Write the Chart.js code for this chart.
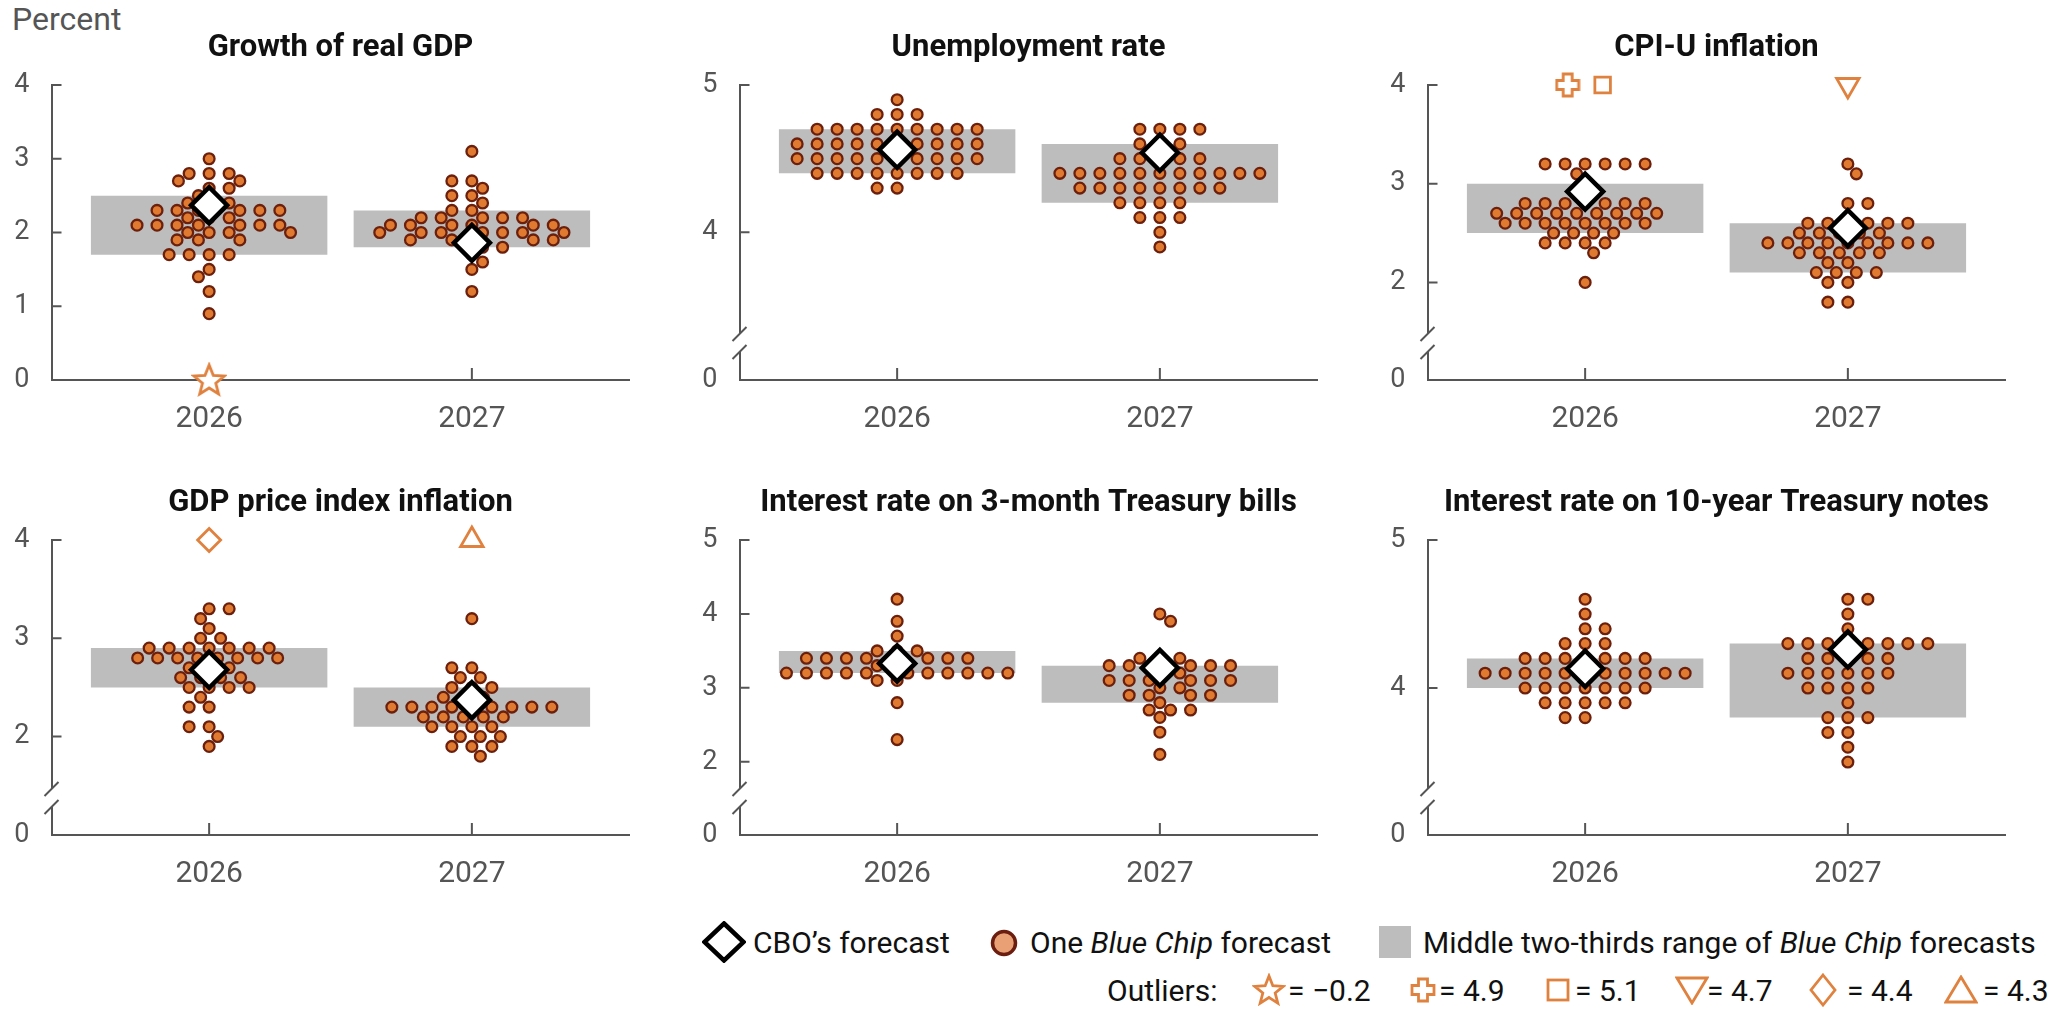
<!DOCTYPE html>
<html>
<head>
<meta charset="utf-8">
<title>CBO and Blue Chip forecasts</title>
<script src="https://cdn.jsdelivr.net/npm/chart.js@4.4.1/dist/chart.umd.min.js"></script>
<style>
  body { margin: 0; background: #fff; font-family: Roboto, "Liberation Sans", sans-serif; }
  #page { position: relative; width: 2052px; height: 1011px; overflow: hidden; }
  canvas { position: absolute; }
  #percent { position: absolute; left: 12px; top: 3px; font-size: 32px; line-height: 1; color: #555; }
  .lg { position: absolute; height: 40px; display: flex; align-items: center; font-size: 30px; color: #111; white-space: nowrap; }
  .lg svg { display: block; }
</style>
</head>
<body>
<div id="page">
  <div id="percent">Percent</div>
  <canvas id="p1" width="681" height="445" style="left:0px;top:0px"></canvas>
  <canvas id="p2" width="681" height="445" style="left:688px;top:0px"></canvas>
  <canvas id="p3" width="681" height="445" style="left:1376px;top:0px"></canvas>
  <canvas id="p4" width="681" height="445" style="left:0px;top:455px"></canvas>
  <canvas id="p5" width="681" height="445" style="left:688px;top:455px"></canvas>
  <canvas id="p6" width="681" height="445" style="left:1376px;top:455px"></canvas>

  <!-- legend, row 1 -->
  <div class="lg" style="left:702px;top:922px"><svg width="44" height="42"><polygon points="22,2.5 41.5,21 22,39.5 2.5,21" fill="#fff" stroke="#000" stroke-width="4.5"/></svg></div>
  <div class="lg" style="left:753px;top:922px">CBO’s forecast</div>
  <div class="lg" style="left:989px;top:923px"><svg width="30" height="30"><circle cx="15" cy="15" r="11.5" fill="#e9a074" stroke="#6b1e10" stroke-width="3.5"/></svg></div>
  <div class="lg" style="left:1030px;top:922px">One&nbsp;<i>Blue Chip</i>&nbsp;forecast</div>
  <div class="lg" style="left:1379px;top:922px"><div style="width:32px;height:32px;background:#bdbdbd"></div></div>
  <div class="lg" style="left:1423px;top:922px">Middle two-thirds range of&nbsp;<i>Blue Chip</i>&nbsp;forecasts</div>

  <!-- legend, row 2 -->
  <div class="lg" style="left:1107px;top:970px">Outliers:</div>
  <div class="lg" style="left:1252px;top:970px"><svg id="lgStar" width="34" height="34"></svg></div>
  <div class="lg" style="left:1288px;top:970px">= −0.2</div>
  <div class="lg" style="left:1410px;top:970px"><svg width="26" height="26"><polygon points="8.5,2 17.5,2 17.5,8.5 24,8.5 24,17.5 17.5,17.5 17.5,24 8.5,24 8.5,17.5 2,17.5 2,8.5 8.5,8.5" fill="#fff" stroke="#e0823f" stroke-width="2.8"/></svg></div>
  <div class="lg" style="left:1439px;top:970px">= 4.9</div>
  <div class="lg" style="left:1546px;top:970px"><svg width="24" height="24"><rect x="2" y="2" width="20" height="20" fill="#fff" stroke="#e0823f" stroke-width="2.8"/></svg></div>
  <div class="lg" style="left:1575px;top:970px">= 5.1</div>
  <div class="lg" style="left:1675px;top:970px"><svg width="34" height="30"><polygon points="2,3 32,3 17,28" fill="#fff" stroke="#e0823f" stroke-width="2.8"/></svg></div>
  <div class="lg" style="left:1707px;top:970px">= 4.7</div>
  <div class="lg" style="left:1809px;top:970px"><svg width="28" height="34"><polygon points="14,2 26,17 14,32 2,17" fill="#fff" stroke="#e0823f" stroke-width="2.8"/></svg></div>
  <div class="lg" style="left:1847px;top:970px">= 4.4</div>
  <div class="lg" style="left:1944px;top:970px"><svg width="34" height="30"><polygon points="17,2 32,27 2,27" fill="#fff" stroke="#e0823f" stroke-width="2.8"/></svg></div>
  <div class="lg" style="left:1983px;top:970px">= 4.3</div>
</div>

<script>
const years = ['2026', '2027'];

// Growth of real GDP
const realGdp2026 = [3.0, 2.8, 2.8, 2.8, 2.7, 2.7, 2.6, 2.6, 2.5, 2.4, 2.4, 2.4, 2.3, 2.3, 2.3, 2.3, 2.3, 2.3,
  2.2, 2.2, 2.2, 2.1, 2.1, 2.1, 2.1, 2.1, 2.1, 2.1, 2.0, 2.0, 2.0, 2.0, 1.9, 1.9, 1.9, 1.7, 1.7, 1.7, 1.7,
  1.5, 1.4, 1.2, 0.9];
const realGdp2027 = [3.1, 2.7, 2.7, 2.6, 2.5, 2.5, 2.4, 2.3, 2.3, 2.2, 2.2, 2.2, 2.2, 2.2, 2.1, 2.1, 2.1, 2.1,
  2.1, 2.1, 2.0, 2.0, 2.0, 2.0, 2.0, 2.0, 2.0, 1.9, 1.9, 1.9, 1.9, 1.9, 1.8, 1.8, 1.7, 1.6, 1.5, 1.2];
const cboRealGdp = [2.37, 1.86];
const bandLowRealGdp = [1.7, 1.8];
const bandHighRealGdp = [2.5, 2.3];
const outliersRealGdp2026 = [-0.2];
const outliersRealGdp2027 = [];

// Unemployment rate
const unemployment2026 = [4.9, 4.8, 4.8, 4.8, 4.7, 4.7, 4.7, 4.7, 4.7, 4.7, 4.7, 4.7, 4.7,
  4.6, 4.6, 4.6, 4.6, 4.6, 4.6, 4.6, 4.6, 4.6, 4.6, 4.5, 4.5, 4.5, 4.5, 4.5, 4.5, 4.5, 4.5, 4.5, 4.5,
  4.4, 4.4, 4.4, 4.4, 4.4, 4.4, 4.4, 4.4, 4.3, 4.3];
const unemployment2027 = [4.7, 4.7, 4.7, 4.7, 4.6, 4.6, 4.6, 4.5, 4.5, 4.5, 4.5, 4.5,
  4.4, 4.4, 4.4, 4.4, 4.4, 4.4, 4.4, 4.4, 4.4, 4.4, 4.4, 4.3, 4.3, 4.3, 4.3, 4.3, 4.3, 4.3, 4.3,
  4.2, 4.2, 4.2, 4.2, 4.1, 4.1, 4.1, 4.0, 3.9];
const cboUnemployment = [4.56, 4.54];
const bandLowUnemployment = [4.4, 4.2];
const bandHighUnemployment = [4.7, 4.6];

// CPI-U inflation
const cpi2026 = [3.2, 3.2, 3.2, 3.2, 3.2, 3.2, 3.1, 2.8, 2.8, 2.8, 2.8, 2.8, 2.8, 2.8,
  2.7, 2.7, 2.7, 2.7, 2.7, 2.7, 2.7, 2.7, 2.7, 2.6, 2.6, 2.6, 2.6, 2.6, 2.6, 2.6, 2.6,
  2.5, 2.5, 2.5, 2.5, 2.4, 2.4, 2.4, 2.4, 2.3, 2.0];
const cpi2027 = [3.2, 3.1, 2.8, 2.8, 2.6, 2.6, 2.6, 2.6, 2.6, 2.6, 2.5, 2.5, 2.5, 2.5, 2.5,
  2.4, 2.4, 2.4, 2.4, 2.4, 2.4, 2.4, 2.4, 2.4, 2.3, 2.3, 2.3, 2.3, 2.3, 2.2, 2.2,
  2.1, 2.1, 2.1, 2.1, 2.0, 2.0, 1.8, 1.8];
const cboCpi = [2.92, 2.55];
const bandLowCpi = [2.5, 2.1];
const bandHighCpi = [3.0, 2.6];
const outliersCpi2026 = [4.9, 5.1];
const outliersCpi2027 = [4.7];

// GDP price index inflation
const gdpPrice2026 = [3.3, 3.3, 3.2, 3.1, 3.0, 3.0, 2.9, 2.9, 2.9, 2.9, 2.9, 2.9, 2.9,
  2.8, 2.8, 2.8, 2.8, 2.8, 2.8, 2.8, 2.8, 2.7, 2.7, 2.7, 2.6, 2.6, 2.6, 2.6,
  2.5, 2.5, 2.5, 2.5, 2.4, 2.3, 2.3, 2.1, 2.1, 2.0, 1.9];
const gdpPrice2027 = [3.2, 2.7, 2.7, 2.6, 2.6, 2.5, 2.5, 2.5, 2.4, 2.4, 2.4,
  2.3, 2.3, 2.3, 2.3, 2.3, 2.3, 2.3, 2.3, 2.3, 2.2, 2.2, 2.2, 2.2, 2.2,
  2.1, 2.1, 2.1, 2.1, 2.0, 2.0, 2.0, 1.9, 1.9, 1.9, 1.8];
const cboGdpPrice = [2.68, 2.37];
const bandLowGdpPrice = [2.5, 2.1];
const bandHighGdpPrice = [2.9, 2.5];
const outliersGdpPrice2026 = [4.4];
const outliersGdpPrice2027 = [4.3];

// Interest rate on 3-month Treasury bills
const bills2026 = [4.2, 3.9, 3.7, 3.5, 3.5, 3.5, 3.4, 3.4, 3.4, 3.4, 3.4, 3.4, 3.4, 3.3, 3.3,
  3.2, 3.2, 3.2, 3.2, 3.2, 3.2, 3.2, 3.2, 3.2, 3.2, 3.2, 3.1, 3.1, 2.8, 2.3];
const bills2027 = [4.0, 3.9, 3.4, 3.4, 3.4, 3.3, 3.3, 3.3, 3.3, 3.3, 3.2, 3.2,
  3.1, 3.1, 3.1, 3.1, 3.1, 3.1, 3.0, 3.0, 2.9, 2.9, 2.9, 2.9, 2.8, 2.7, 2.7, 2.7, 2.6, 2.4, 2.1];
const cboBills = [3.33, 3.27];
const bandLowBills = [3.2, 2.8];
const bandHighBills = [3.5, 3.3];

// Interest rate on 10-year Treasury notes
const notes2026 = [4.6, 4.5, 4.4, 4.4, 4.3, 4.3, 4.3, 4.2, 4.2, 4.2, 4.2, 4.2, 4.2, 4.2,
  4.1, 4.1, 4.1, 4.1, 4.1, 4.1, 4.1, 4.1, 4.1, 4.1, 4.1, 4.0, 4.0, 4.0, 4.0, 4.0, 4.0, 4.0,
  3.9, 3.9, 3.9, 3.9, 3.9, 3.8, 3.8];
const notes2027 = [4.6, 4.6, 4.5, 4.4, 4.3, 4.3, 4.3, 4.3, 4.3, 4.3, 4.3, 4.3,
  4.2, 4.2, 4.2, 4.2, 4.2, 4.1, 4.1, 4.1, 4.1, 4.1, 4.1, 4.0, 4.0, 4.0, 4.0,
  3.9, 3.8, 3.8, 3.8, 3.7, 3.7, 3.6, 3.5];
const cboNotes = [4.13, 4.26];
const bandLowNotes = [4.0, 3.8];
const bandHighNotes = [4.2, 4.3];

// outlier values as listed in the legend, with their marker
const outlierValues = [-0.2, 4.9, 5.1, 4.7, 4.4, 4.3];
const outlierShapes = ['star', 'plus', 'square', 'triDown', 'diamond', 'triUp'];

const axisColor = '#555';
const orange = '#e0823f';
Chart.defaults.font.family = 'Roboto, "Liberation Sans", sans-serif';

function starPoints(cx, cy, R, r) {
  const pts = [];
  for (let k = 0; k < 10; k++) {
    const a = -Math.PI / 2 + k * Math.PI / 5;
    const rad = k % 2 ? r : R;
    pts.push([cx + rad * Math.cos(a), cy + rad * Math.sin(a)]);
  }
  return pts;
}

function markerCanvas(size, pts) {
  const c = document.createElement('canvas');
  c.width = size; c.height = size;
  const g = c.getContext('2d');
  g.beginPath();
  pts.forEach(([x, y], i) => (i ? g.lineTo(x, y) : g.moveTo(x, y)));
  g.closePath();
  g.fillStyle = '#fff';
  g.fill();
  g.lineWidth = 2.8;
  g.strokeStyle = orange;
  g.stroke();
  return c;
}

const starImg = markerCanvas(36, starPoints(18, 19, 16, 7));
const plusImg = markerCanvas(26, [[8.5, 2], [17.5, 2], [17.5, 8.5], [24, 8.5], [24, 17.5], [17.5, 17.5],
  [17.5, 24], [8.5, 24], [8.5, 17.5], [2, 17.5], [2, 8.5], [8.5, 8.5]]);

document.getElementById('lgStar').innerHTML =
  '<polygon points="' + starPoints(17, 18, 15, 6.5).map(p => p.join(',')).join(' ') +
  '" fill="#fff" stroke="' + orange + '" stroke-width="2.8"/>';

const markerStyle = {
  star: { style: starImg, radius: 16, rotation: 0 },
  plus: { style: plusImg, radius: 12, rotation: 0 },
  square: { style: 'rect', radius: 11, rotation: 0 },
  triDown: { style: 'triangle', radius: 13, rotation: 180 },
  diamond: { style: 'rectRot', radius: 11.5, rotation: 0 },
  triUp: { style: 'triangle', radius: 13, rotation: 0 }
};

const panels = [
  { id: 'p1', title: 'Growth of real GDP', yMax: 4, yMin: 0,
    values: [realGdp2026, realGdp2027], cbo: cboRealGdp, low: bandLowRealGdp, high: bandHighRealGdp,
    outliers: [outliersRealGdp2026, outliersRealGdp2027] },
  { id: 'p2', title: 'Unemployment rate', yMax: 5, yMin: 3.248,
    values: [unemployment2026, unemployment2027], cbo: cboUnemployment, low: bandLowUnemployment, high: bandHighUnemployment,
    outliers: [[], []] },
  { id: 'p3', title: 'CPI-U inflation', yMax: 4, yMin: 1.386,
    values: [cpi2026, cpi2027], cbo: cboCpi, low: bandLowCpi, high: bandHighCpi,
    outliers: [outliersCpi2026, outliersCpi2027] },
  { id: 'p4', title: 'GDP price index inflation', yMax: 4, yMin: 1.375,
    values: [gdpPrice2026, gdpPrice2027], cbo: cboGdpPrice, low: bandLowGdpPrice, high: bandHighGdpPrice,
    outliers: [outliersGdpPrice2026, outliersGdpPrice2027] },
  { id: 'p5', title: 'Interest rate on 3-month Treasury bills', yMax: 5, yMin: 1.51,
    values: [bills2026, bills2027], cbo: cboBills, low: bandLowBills, high: bandHighBills,
    outliers: [[], []] },
  { id: 'p6', title: 'Interest rate on 10-year Treasury notes', yMax: 5, yMin: 3.257,
    values: [notes2026, notes2027], cbo: cboNotes, low: bandLowNotes, high: bandHighNotes,
    outliers: [[], []] }
];

// greedy beeswarm in pixels: each point takes the free spot nearest the centre line.
// rowGap = spacing between equal values, diam = collision size between different values
function swarm(ys, rowGap, diam) {
  const xs = [];
  const sep = d => (d < 0.5 ? rowGap : d < diam ? Math.sqrt(diam * diam - d * d) : 0);
  ys.forEach((y, i) => {
    const near = [];
    for (let j = 0; j < i; j++) {
      const w = sep(Math.abs(ys[j] - y));
      if (w > 0) near.push([xs[j], w]);
    }
    const cands = [0];
    near.forEach(([x, w]) => cands.push(x - w, x + w));
    const free = c => near.every(([x, w]) => Math.abs(c - x) >= w - 0.01);
    const side = i % 2 ? 1 : -1;
    cands.sort((a, b) => (Math.abs(Math.abs(a) - Math.abs(b)) > 1e-6 ? Math.abs(a) - Math.abs(b) : side * (b - a)));
    xs.push(cands.find(free));
  });
  return xs;
}

// inward tick marks and the axis break
const axisMarks = {
  id: 'axisMarks',
  beforeDatasetsDraw(chart) {
    const { ctx, chartArea: a, scales } = chart;
    ctx.save();
    ctx.strokeStyle = axisColor;
    ctx.lineWidth = 2;
    ctx.beginPath();
    scales.x.ticks.forEach(t => {
      const px = scales.x.getPixelForValue(t.value);
      ctx.moveTo(px, a.bottom);
      ctx.lineTo(px, a.bottom - 12);
    });
    scales.y.ticks.forEach(t => {
      if (t.value === 0) return;
      const py = scales.y.getPixelForValue(t.value);
      ctx.moveTo(a.left, py);
      ctx.lineTo(a.left + 10, py);
    });
    ctx.stroke();
    if (scales.y0) {
      const yb = scales.y.bottom;
      ctx.fillStyle = '#fff';
      ctx.fillRect(a.left - 5, yb - 9, 10, 18);
      ctx.beginPath();
      [yb - 9, yb + 9].forEach(yc => {
        ctx.moveTo(a.left - 7, yc + 7);
        ctx.lineTo(a.left + 7, yc - 7);
      });
      ctx.stroke();
    }
    ctx.restore();
  }
};

function yAxis(min, max, weight, ticksFn) {
  return {
    type: 'linear', position: 'left', stack: 'v', stackWeight: weight, min, max,
    afterBuildTicks: ticksFn,
    afterFit: s => { s.width = 51.5; },
    ticks: { font: { size: 27 }, color: axisColor, padding: 22 },
    grid: { display: false, drawTicks: false },
    border: { color: axisColor, width: 2 }
  };
}

panels.forEach(p => {
  const broken = p.yMin > 0;
  const scales = {};
  // left-hand stacks are placed last-defined first, so the stub goes in before the main axis
  if (broken) scales.y0 = yAxis(0, 1, 37, s => { s.ticks = [{ value: 0 }]; });
  scales.y = yAxis(p.yMin, p.yMax, broken ? 258 : 295, s => {
    const t = [];
    for (let v = Math.ceil(s.min); v <= s.max; v++) t.push({ value: v });
    s.ticks = t;
  });
  scales.x = {
    type: 'linear', min: -0.6, max: 1.6, offset: false,
    afterBuildTicks: s => { s.ticks = years.map((_, i) => ({ value: i })); },
    afterFit: s => { s.height = 65; },
    ticks: { callback: (v, i) => years[i], font: { size: 30 }, color: axisColor, padding: 21, maxRotation: 0 },
    grid: { display: false, drawTicks: false },
    border: { color: axisColor, width: 2 }
  };

  const chart = new Chart(document.getElementById(p.id), {
    type: 'scatter',
    data: {
      datasets: [
        { type: 'bar', yAxisID: 'y', data: years.map((_, i) => ({ x: i, y: [p.low[i], p.high[i]] })),
          backgroundColor: '#bdbdbd', borderWidth: 0, categoryPercentage: 1, barPercentage: 0.9, order: 10 },
        { yAxisID: 'y', data: [], pointRadius: 5.4, pointHoverRadius: 5.4, pointBorderWidth: 2.3,
          pointBackgroundColor: '#e07a30', pointBorderColor: '#6b200d', order: 5, clip: false },
        { yAxisID: 'y', data: [], pointBorderWidth: 2.8, pointBackgroundColor: '#fff', pointBorderColor: orange, order: 2, clip: false },
        { yAxisID: 'y', data: years.map((_, i) => ({ x: i, y: p.cbo[i] })), pointStyle: 'rectRot', pointRadius: 18, pointHoverRadius: 18,
          pointBorderWidth: 4.5, pointBackgroundColor: '#fff', pointBorderColor: '#000', order: 1, clip: false }
      ]
    },
    options: {
      responsive: false, animation: false, devicePixelRatio: 1, events: [],
      layout: { padding: { left: 0, right: 51.5, top: 0, bottom: 0 } },
      scales,
      plugins: {
        legend: { display: false },
        tooltip: { enabled: false },
        title: { display: true, fullSize: false, text: p.title, color: '#111',
          font: { size: 31, weight: 'bold', lineHeight: 1.2 }, padding: { top: 30, bottom: 17.8 } }
      }
    },
    plugins: [axisMarks]
  });

  // place the dots once the scales know their pixel sizes
  const xs = chart.scales.x, ys = chart.scales.y;
  const unit = xs.getPixelForValue(1) - xs.getPixelForValue(0);
  const dots = [];
  p.values.forEach((vals, i) => {
    const off = swarm(vals.map(v => ys.getPixelForValue(v)), 20, 13);
    vals.forEach((v, k) => dots.push({ x: i + off[k] / unit, y: v }));
  });

  const outs = [], styles = [], radii = [], rots = [];
  p.outliers.forEach((vals, i) => {
    if (!vals.length) return;
    const shown = vals.map(v => Math.min(Math.max(v, ys.min), ys.max));
    const off = swarm(shown.map(v => ys.getPixelForValue(v)), 35, 30);
    const mean = off.reduce((s, o) => s + o, 0) / off.length;
    vals.forEach((v, k) => {
      const m = markerStyle[outlierShapes[outlierValues.indexOf(v)]];
      outs.push({ x: i + (off[k] - mean) / unit, y: shown[k] });
      styles.push(m.style); radii.push(m.radius); rots.push(m.rotation);
    });
  });

  chart.data.datasets[1].data = dots;
  Object.assign(chart.data.datasets[2], { data: outs, pointStyle: styles, pointRadius: radii, pointHoverRadius: radii, pointRotation: rots });
  chart.update('none');
});
</script>
</body>
</html>
